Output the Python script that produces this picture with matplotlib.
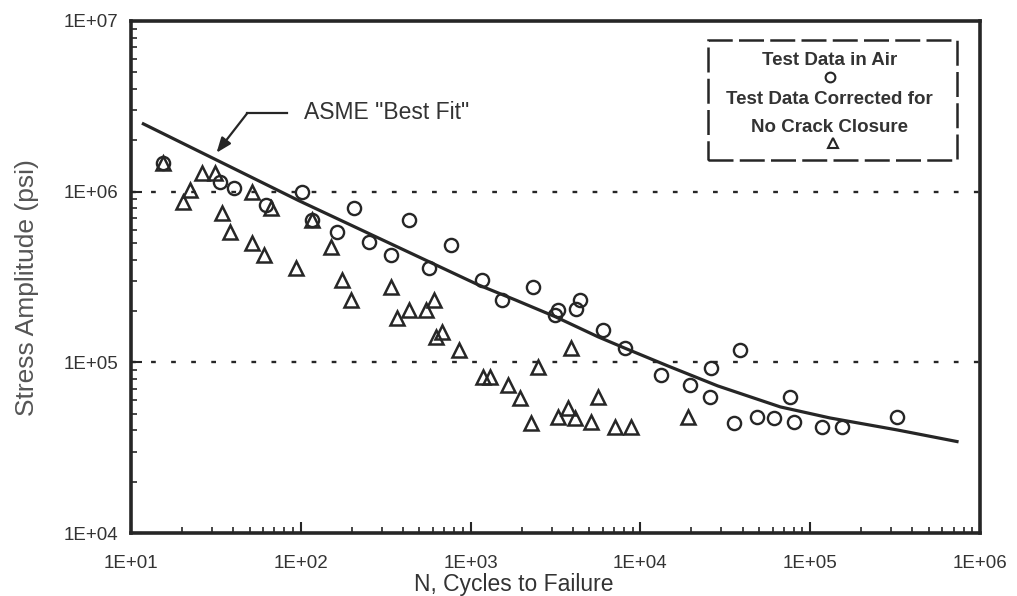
import matplotlib
matplotlib.use("Agg")
import matplotlib.pyplot as plt
from matplotlib.ticker import LogLocator, NullFormatter, FixedLocator
from matplotlib.patches import Rectangle

# ---- data ----
air_N = [15.4, 33.3, 40.7, 102, 62.8, 117, 206, 432, 164, 252, 340, 764, 567,
         1161, 1521, 2344, 3283, 3153, 4420, 4185, 6030, 8110, 13200, 19500,
         25900, 38800, 25600, 35800, 48900, 61500, 80600, 76300, 117000,
         154000, 324000]
air_S = [1.47e6, 1.14e6, 1.05e6, 9.96e5, 8.36e5, 6.82e5, 8.02e5, 6.82e5, 5.81e5,
         5.07e5, 4.26e5, 4.88e5, 3.57e5, 3.04e5, 2.32e5, 2.77e5, 2.03e5, 1.90e5,
         2.32e5, 2.06e5, 1.55e5, 1.21e5, 8.43e4, 7.38e4, 9.27e4, 1.18e5, 6.27e4,
         4.42e4, 4.79e4, 4.72e4, 4.48e4, 6.27e4, 4.19e4, 4.19e4, 4.79e4]

corr_N = [15.4, 20.2, 22.2, 26.1, 31.1, 51.3, 67.2, 34.2, 38.1, 51.3, 61.1, 94.2,
          117, 151, 175, 198, 340, 368, 432, 545, 607, 676, 623, 851, 1191, 1310,
          1671, 1965, 2278, 2506, 3908, 3283, 3758, 4130, 5130, 5640, 7080, 8790,
          19000]
corr_S = [1.47e6, 8.71e5, 1.02e6, 1.29e6, 1.29e6, 9.96e5, 8.02e5, 7.50e5, 5.81e5,
          5.00e5, 4.26e5, 3.57e5, 6.82e5, 4.74e5, 3.04e5, 2.32e5, 2.77e5, 1.82e5,
          2.03e5, 2.03e5, 2.32e5, 1.51e5, 1.41e5, 1.18e5, 8.21e4, 8.21e4, 7.38e4,
          6.18e4, 4.42e4, 9.39e4, 1.21e5, 4.79e4, 5.41e4, 4.72e4, 4.48e4, 6.27e4,
          4.19e4, 4.19e4, 4.79e4]

fit_N = [11.6, 98, 1114, 1836, 3155, 5640, 8110, 14500, 28500, 66700, 131000,
         324000, 748000]
fit_S = [2.52e6, 8.83e5, 2.84e5, 2.32e5, 1.85e5, 1.41e5, 1.21e5, 9.53e4, 7.28e4,
         5.48e4, 4.72e4, 4.02e4, 3.42e4]

x_ticks = [1e1, 1e2, 1e3, 1e4, 1e5, 1e6]
x_labels = ["1E+01", "1E+02", "1E+03", "1E+04", "1E+05", "1E+06"]
y_ticks = [1e4, 1e5, 1e6, 1e7]
y_labels = ["1E+04", "1E+05", "1E+06", "1E+07"]
grid_levels = [1e5, 1e6]

legend_lines = ["Test Data in Air", "Test Data Corrected for", "No Crack Closure"]
fit_label = 'ASME "Best Fit"'

# ---- styling ----
INK = "#262626"
TXT = "#333333"
plt.rcParams["font.family"] = ["Liberation Sans", "DejaVu Sans"]

fig = plt.figure(figsize=(10.17, 5.96), dpi=100)
ax = fig.add_axes([0.1288, 0.1057, 0.8348, 0.8591])
ax.set_xscale("log")
ax.set_yscale("log")
ax.set_xlim(1e1, 1e6)
ax.set_ylim(1e4, 1e7)

# dotted horizontal grid lines
for g in grid_levels:
    ax.axhline(g, color=INK, lw=1.7, linestyle=(0, (2.0, 6.5)), zorder=1)

# best fit curve
ax.plot(fit_N, fit_S, color=INK, lw=2.3, zorder=3, solid_capstyle="butt")

# data
ax.plot(air_N, air_S, linestyle="none", marker="o", markersize=9.5,
        markerfacecolor="none", markeredgecolor=INK, markeredgewidth=1.7, zorder=4)
ax.plot(corr_N, corr_S, linestyle="none", marker="^", markersize=10,
        markerfacecolor="none", markeredgecolor=INK, markeredgewidth=1.8, zorder=4)

# ticks
ax.xaxis.set_major_locator(FixedLocator(x_ticks))
ax.set_xticklabels(x_labels)
ax.yaxis.set_major_locator(FixedLocator(y_ticks))
ax.set_yticklabels(y_labels)
ax.xaxis.set_minor_locator(LogLocator(base=10, subs=range(2, 10), numticks=20))
ax.yaxis.set_minor_locator(LogLocator(base=10, subs=range(2, 10), numticks=20))
ax.xaxis.set_minor_formatter(NullFormatter())
ax.yaxis.set_minor_formatter(NullFormatter())
ax.tick_params(which="major", direction="in", length=8, width=1.5, color=INK,
               labelsize=13.5, labelcolor=TXT, top=False, right=False)
ax.tick_params(axis="x", which="major", pad=16)
ax.tick_params(axis="y", which="major", pad=9)
ax.tick_params(which="minor", direction="in", length=4, width=1.2, color=INK,
               top=False, right=False)

for s in ax.spines.values():
    s.set_linewidth(2.6)
    s.set_color(INK)

ax.set_xlabel("N, Cycles to Failure", fontsize=16.5, color=TXT)
ax.xaxis.set_label_coords(0.451, -0.078)
ax.set_ylabel("Stress Amplitude (psi)", fontsize=19, color="#555555")
ax.yaxis.set_label_coords(-0.108, 0.479)

# annotation for best fit
txt_x, txt_y = 104.8, 2.89e6
elbow_x = 48.5
tip_x, tip_y = 31.9, 1.69e6
ax.text(txt_x, txt_y, fit_label, fontsize=16.5, color=TXT, va="center", ha="left")
ax.plot([83.4, elbow_x], [txt_y, txt_y], color=INK, lw=1.6, zorder=3)
ax.annotate("", xy=(tip_x, tip_y), xytext=(elbow_x, txt_y),
            arrowprops=dict(arrowstyle="-|>,head_length=0.9,head_width=0.35",
                            color=INK, lw=1.6, shrinkA=0, shrinkB=0), zorder=5)

# legend box (dashed)
box = Rectangle((0.680, 0.729), 0.293, 0.234, transform=ax.transAxes,
                fill=False, edgecolor=INK, lw=1.8, linestyle=(0, (10, 2.5)),
                zorder=5)
ax.add_patch(box)
ax.text(0.823, 0.922, legend_lines[0], transform=ax.transAxes, ha="center",
        va="center", fontsize=13.5, fontweight="bold", color=TXT)
ax.plot([0.823], [0.891], transform=ax.transAxes, marker="o", markersize=7,
        markerfacecolor="none", markeredgecolor=INK, markeredgewidth=1.5)
ax.text(0.823, 0.846, legend_lines[1], transform=ax.transAxes, ha="center",
        va="center", fontsize=13.5, fontweight="bold", color=TXT)
ax.text(0.823, 0.791, legend_lines[2], transform=ax.transAxes, ha="center",
        va="center", fontsize=13.5, fontweight="bold", color=TXT)
ax.plot([0.827], [0.762], transform=ax.transAxes, marker="^", markersize=7,
        markerfacecolor="none", markeredgecolor=INK, markeredgewidth=1.5)

fig.savefig("out.png", dpi=100)
